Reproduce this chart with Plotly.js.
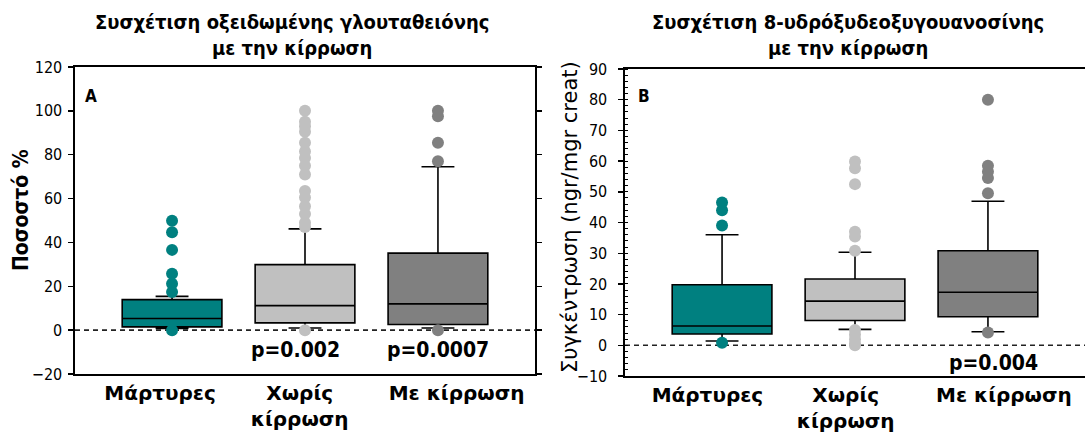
<!DOCTYPE html>
<html>
<head>
<meta charset="utf-8">
<script src="https://cdn.plot.ly/plotly-3.0.1.min.js"></script>
<style>html,body{margin:0;padding:0;background:#fff;}#chart{width:1085px;height:432px;}</style>
</head>
<body>
<div id="chart"></div>
<script>
// ---------- data ----------
const categories = ["Μάρτυρες", "Χωρίς<br>κίρρωση", "Με κίρρωση"];
const boxColors = ["#008080", "#c0c0c0", "#808080"];

// Panel A: oxidised glutathione (%)
const a_q1 = [1.5, 3.3, 2.6];
const a_median = [5.3, 11.2, 12.0];
const a_q3 = [13.9, 29.9, 35.1];
const a_lower = [0.8, 1.0, 1.0];
const a_upper = [15.4, 46.2, 74.5];
const a_outliers_controls = [49.9, 44.6, 36.6, 25.7, 21.2, 17.4, 0];
const a_outliers_nocirr = [100, 95, 93, 90.5, 85.5, 81.5, 78.5, 75, 71, 63.5, 60.5, 56.5, 53, 49, 47, 0];
const a_outliers_cirr = [100, 97.5, 85.5, 77, 0];
const a_pvalues = ["", "p=0.002", "p=0.0007"];

// Panel B: 8-OHdG (ngr/mgr creat)
const b_q1 = [3.7, 8.1, 9.3];
const b_median = [6.3, 14.4, 17.3];
const b_q3 = [19.7, 21.6, 30.8];
const b_lower = [1.4, 5.2, 4.4];
const b_upper = [36.0, 30.3, 46.9];
const b_outliers_controls = [46.5, 44, 39, 0.8];
const b_outliers_nocirr = [59.9, 57.7, 52.5, 37, 35.4, 30.8, 5, 3.5, 2, 0.5, 0];
const b_outliers_cirr = [80, 58.5, 56.5, 54.5, 49.5, 4.2];
const b_pvalues = ["", "", "p=0.004"];

const titleA = "Συσχέτιση οξειδωμένης γλουταθειόνης<br>με την κίρρωση";
const titleB = "Συσχέτιση 8-υδρόξυδεοξυγουανοσίνης<br>με την κίρρωση";
const yTitleA = "Ποσοστό %";
const yTitleB = "Συγκέντρωση (ngr/mgr creat)";

// ---------- build ----------
const FONT = "Liberation Sans Narrow, Arial Narrow, Noto Sans Condensed, DejaVu Sans Condensed, Liberation Sans, sans-serif";
const WIDE = "DejaVu Sans, Verdana, sans-serif";
const idx = categories.map((c, i) => i);   // box positions on the x scale
const traces = [];
function addPanel(q1, med, q3, lo, up, outs, xa, ya) {
  for (let i = 0; i < categories.length; i++) {
    traces.push({
      type: "box", x: [idx[i]], q1: [q1[i]], median: [med[i]], q3: [q3[i]],
      lowerfence: [lo[i]], upperfence: [up[i]],
      fillcolor: boxColors[i], line: {color: "#000", width: 1.6},
      width: 0.75, whiskerwidth: 0.33, boxpoints: false,
      xaxis: xa, yaxis: ya, showlegend: false, name: categories[i]
    });
  }
  for (let i = 0; i < categories.length; i++) {
    traces.push({
      type: "scatter", mode: "markers",
      x: outs[i].map(() => idx[i]), y: outs[i],
      marker: {color: boxColors[i], size: 12, line: {width: 0}},
      xaxis: xa, yaxis: ya, showlegend: false, hoverinfo: "y"
    });
  }
}
addPanel(a_q1, a_median, a_q3, a_lower, a_upper,
  [a_outliers_controls, a_outliers_nocirr, a_outliers_cirr], "x", "y");
addPanel(b_q1, b_median, b_q3, b_lower, b_upper,
  [b_outliers_controls, b_outliers_nocirr, b_outliers_cirr], "x2", "y2");

const W = 1085, H = 432;
const px = v => v / W, py = v => 1 - v / H;

const xCommon = {
  type: "linear", range: [-0.73, 2.73], showline: true, linecolor: "#000", linewidth: 1.6,
  mirror: true, ticks: "", showgrid: false, zeroline: false,
  tickmode: "array", ticktext: categories,
  tickfont: {family: WIDE, size: 20, color: "#000", weight: 700}
};
const yCommon = {
  showline: true, linecolor: "#000", linewidth: 1.6, mirror: "ticks",
  ticks: "outside", ticklen: 5, tickwidth: 1.4, tickcolor: "#000",
  showgrid: false, zeroline: false,
  tickfont: {family: FONT, size: 16, color: "#000"}
};

const ann = (o) => Object.assign({xref: "paper", yref: "paper", showarrow: false,
  xanchor: "center", yanchor: "middle"}, o);
const annotations = [
  ann({text: titleA, x: px(292), y: py(35),
   font: {family: FONT, size: 20, color: "#000", weight: 700}}),
  ann({text: titleB, x: px(848), y: py(35),
   font: {family: FONT, size: 20, color: "#000", weight: 700}}),
  ann({text: yTitleA, x: px(21), y: py(210), textangle: -90,
   font: {family: FONT, size: 21, color: "#000", weight: 700}}),
  ann({text: yTitleB, x: px(570), y: py(217), textangle: -90,
   font: {family: WIDE, size: 21, color: "#000"}}),
  ann({text: "A", x: px(91), y: py(96),
   font: {family: FONT, size: 17, color: "#000", weight: 700}}),
  ann({text: "B", x: px(644), y: py(96),
   font: {family: FONT, size: 17, color: "#000", weight: 700}})
];
const pA = [0, 0.93, 2.0], pB = [0, 0, 2.04];
a_pvalues.forEach((t, i) => { if (t) annotations.push({
  text: t, x: pA[i], y: -9.2, xref: "x", yref: "y", showarrow: false,
  font: {family: FONT, size: 21, color: "#000", weight: 700}}); });
b_pvalues.forEach((t, i) => { if (t) annotations.push({
  text: t, x: pB[i], y: -5.8, xref: "x2", yref: "y2", showarrow: false,
  font: {family: FONT, size: 21, color: "#000", weight: 700}}); });

const layout = {
  width: W, height: H, margin: {l: 0, r: 0, t: 0, b: 0},
  paper_bgcolor: "#fff", plot_bgcolor: "#fff", boxmode: "overlay",
  showlegend: false,
  xaxis: Object.assign({}, xCommon, {domain: [px(75), px(535)], anchor: "y",
    tickvals: [-0.09, 0.96, 2.14]}),
  yaxis: Object.assign({}, yCommon, {domain: [1 - 374 / H, 1 - 67 / H], anchor: "x",
    range: [-20, 120], tick0: 0, dtick: 20, ticklabelstandoff: 3}),
  xaxis2: Object.assign({}, xCommon, {domain: [px(625), 1], anchor: "y2",
    tickvals: [-0.11, 0.93, 2.12]}),
  yaxis2: Object.assign({}, yCommon, {domain: [1 - 376 / H, 1 - 69 / H], anchor: "x2",
    mirror: false, range: [-10, 90], tick0: 0, dtick: 10, ticklabelstandoff: 8,
    minor: {dtick: 2, ticks: "inside", ticklen: 3, tickcolor: "#000", tickwidth: 1}}),
  shapes: [
    {type: "line", xref: "x domain", yref: "y", x0: 0, x1: 1, y0: 0, y1: 0, layer: "below",
     line: {color: "#222", width: 1.6, dash: "5px,4px"}},
    {type: "line", xref: "x2 domain", yref: "y2", x0: 0, x1: 1, y0: 0, y1: 0, layer: "below",
     line: {color: "#222", width: 1.6, dash: "5px,4px"}}
  ],
  annotations: annotations
};

Plotly.newPlot("chart", traces, layout, {displayModeBar: false, staticPlot: true});
</script>
</body>
</html>
